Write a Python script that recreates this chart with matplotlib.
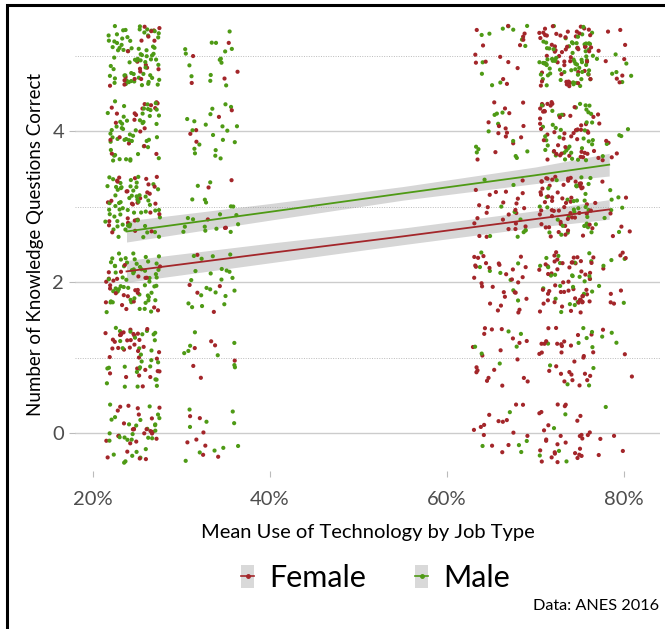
import numpy as np
import matplotlib
matplotlib.use('Agg')
from matplotlib import pyplot as plt
from matplotlib.lines import Line2D
from matplotlib.patches import Patch, Rectangle

# job types: mean use of technology (%)
job_x = [24.5, 33.3, 66.0, 73.5, 77.8]
scores = [0, 1, 2, 3, 4, 5]

# respondent counts per job type (rows) and score (cols 0..5)
female_counts = [
    [25, 35, 25, 30, 20, 20],
    [8, 6, 5, 5, 5, 5],
    [15, 20, 30, 25, 15, 15],
    [30, 30, 50, 55, 45, 50],
    [4, 3, 10, 10, 10, 12],
]
male_counts = [
    [30, 30, 60, 60, 50, 70],
    [10, 8, 22, 18, 20, 15],
    [5, 6, 8, 10, 12, 12],
    [5, 8, 25, 30, 35, 60],
    [1, 5, 6, 10, 10, 15],
]

# fitted lines (lm) with confidence band half-widths
fit_x = [23.8, 40, 55, 70, 78.3]
female_fit = [2.146, 2.39, 2.61, 2.84, 2.967]
male_fit = [2.675, 2.935, 3.18, 3.42, 3.56]
female_hw = [0.145, 0.13, 0.11, 0.11, 0.13]
male_hw = [0.14, 0.11, 0.09, 0.11, 0.15]

RED = '#A3262A'
GREEN = '#4E9A15'

plt.rcParams['font.family'] = ['Lato', 'DejaVu Sans']


def jit(k, seed):
    # deterministic hash in [0, 1) used as geom_jitter style offset
    return (np.sin(k * 12.9898 + seed * 78.233) * 43758.5453) % 1.0


xs, ys, cs = [], [], []
k = 0
for j, xc in enumerate(job_x):
    for s in scores:
        for counts, col in ((female_counts, RED), (male_counts, GREEN)):
            for i in range(counts[j][s]):
                k += 1
                xs.append(xc + (jit(k, 1) - 0.5) * 6.2)
                ys.append(s + (jit(k, 2) - 0.5) * 0.8)
                cs.append(col)
xs = np.array(xs)
ys = np.array(ys)
cs = np.array(cs)
order = np.argsort(jit(np.arange(len(xs)), 3))

fig = plt.figure(figsize=(6.65, 6.29), dpi=100)
ax = fig.add_axes([0.113, 0.251, 0.879, 0.720])

for fy, hw in ((female_fit, female_hw), (male_fit, male_hw)):
    fy = np.array(fy)
    hw = np.array(hw)
    ax.fill_between(fit_x, fy - hw, fy + hw, color='#999999', alpha=0.4,
                    linewidth=0, zorder=2)

ax.scatter(xs[order], ys[order], c=cs[order], s=9, linewidths=0, zorder=3)

ax.plot(fit_x, female_fit, color=RED, lw=1.3, zorder=4)
ax.plot(fit_x, male_fit, color=GREEN, lw=1.3, zorder=4)

ax.set_xlim(18, 84)
ax.set_ylim(-0.5, 5.5)
ax.set_xticks([20, 40, 60, 80])
ax.set_xticklabels(['20%', '40%', '60%', '80%'])
ax.set_yticks([0, 2, 4])
ax.set_yticks([1, 3, 5], minor=True)
ax.grid(axis='y', which='major', color='#cccccc', lw=1.0, zorder=0)
ax.grid(axis='y', which='minor', color='#bbbbbb', lw=0.7, ls=(0, (1, 1.5)), zorder=0)
ax.set_axisbelow(True)
for sp in ax.spines.values():
    sp.set_visible(False)
ax.tick_params(axis='both', which='major', colors='#bbbbbb', length=4,
               width=0.8, labelcolor='#4d4d4d', labelsize=14.5, pad=4)
ax.tick_params(axis='y', which='minor', length=0)
ax.tick_params(axis='x', pad=10)

ax.set_xlabel('Mean Use of Technology by Job Type', fontsize=14.5, labelpad=12)
ax.set_ylabel('Number of Knowledge Questions Correct', fontsize=13.5, labelpad=6)

handles = [
    (Patch(facecolor='#d9d9d9', edgecolor='none'),
     Line2D([], [], color=RED, lw=1.2, marker='o', markersize=2.5)),
    (Patch(facecolor='#d9d9d9', edgecolor='none'),
     Line2D([], [], color=GREEN, lw=1.2, marker='o', markersize=2.5)),
]
fig.legend(handles, ['Female', 'Male'], loc='center', bbox_to_anchor=(0.565, 0.081),
           ncol=2, frameon=False, fontsize=22, handlelength=0.42, handleheight=0.8,
           handletextpad=0.5, columnspacing=1.6)

fig.text(0.991, 0.036, 'Data: ANES 2016', ha='right', va='center', fontsize=11.7)

fig.add_artist(Rectangle((7 / 665, -0.1), 1.2, 1.1 - 5 / 629, transform=fig.transFigure,
                         fill=False, edgecolor='black', lw=2.2, clip_on=False))

fig.savefig('out.png', dpi=100)
